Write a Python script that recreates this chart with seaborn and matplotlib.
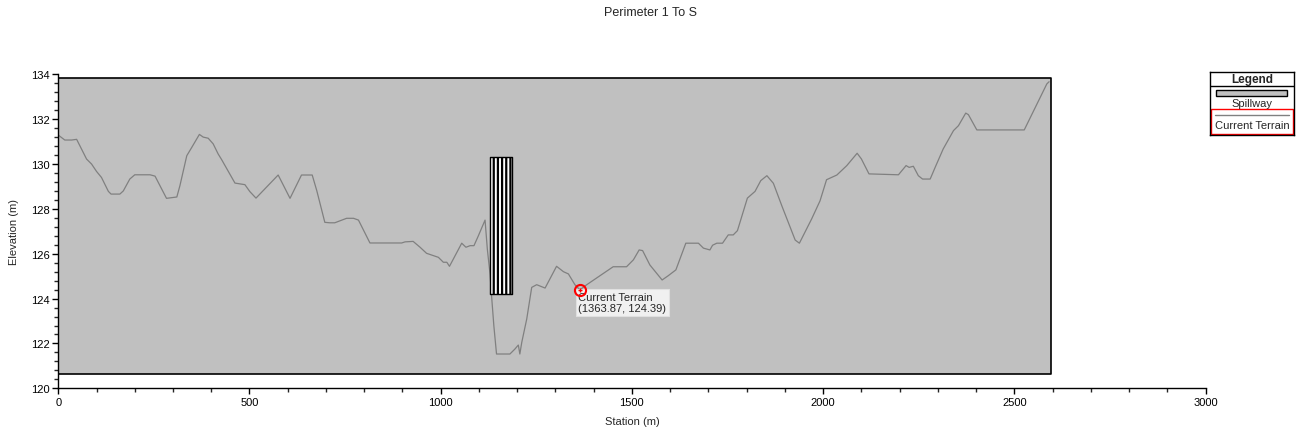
import matplotlib
matplotlib.use("Agg")
import matplotlib.pyplot as plt
import seaborn as sns
import pandas as pd
from matplotlib.patches import Rectangle
from matplotlib.lines import Line2D
from matplotlib.ticker import MultipleLocator

# terrain profile
station = [0, 17, 35, 48, 74, 87, 100, 113, 131, 138, 161, 170, 187, 200, 240, 253,
           283, 310, 318, 336, 349, 369, 379, 392, 405, 418, 427, 462, 488, 501, 517,
           575, 606, 636, 664, 676, 697, 710, 723, 754, 772, 785, 815, 898, 907, 928,
           946, 963, 994, 1007, 1016, 1023, 1055, 1066, 1077, 1087, 1098, 1116, 1122,
           1129, 1133, 1139, 1146, 1181, 1194, 1203, 1207, 1212, 1225, 1238, 1251,
           1273, 1303, 1321, 1334, 1351, 1364, 1382, 1451, 1486, 1504, 1519, 1528,
           1547, 1579, 1595, 1615, 1641, 1674, 1687, 1704, 1711, 1722, 1737, 1752,
           1765, 1776, 1802, 1822, 1837, 1853, 1870, 1892, 1927, 1938, 1970, 1992,
           2009, 2036, 2062, 2089, 2100, 2120, 2197, 2217, 2225, 2236, 2249, 2260,
           2280, 2293, 2314, 2341, 2354, 2373, 2380, 2402, 2526, 2585, 2591]
elevation = [131.29, 131.07, 131.07, 131.1, 130.22, 130.0, 129.67, 129.4, 128.78, 128.66,
             128.66, 128.8, 129.33, 129.52, 129.52, 129.46, 128.47, 128.53, 129.03, 130.37,
             130.74, 131.32, 131.2, 131.15, 130.9, 130.45, 130.2, 129.15, 129.08, 128.77,
             128.48, 129.51, 128.47, 129.51, 129.51, 128.81, 127.4, 127.38, 127.38, 127.58,
             127.58, 127.5, 126.48, 126.48, 126.53, 126.55, 126.29, 126.02, 125.84, 125.62,
             125.62, 125.44, 126.47, 126.29, 126.36, 126.36, 126.78, 127.5, 126.2, 125.1,
             124.13, 122.79, 121.53, 121.53, 121.75, 121.93, 121.53, 122.05, 123.09, 124.5,
             124.62, 124.47, 125.44, 125.2, 125.1, 124.62, 124.39, 124.62, 125.42, 125.42,
             125.73, 126.17, 126.14, 125.5, 124.83, 125.02, 125.28, 126.47, 126.47, 126.25,
             126.17, 126.38, 126.47, 126.47, 126.84, 126.84, 127.03, 128.48, 128.78, 129.26,
             129.48, 129.14, 128.14, 126.61, 126.47, 127.55, 128.36, 129.3, 129.51, 129.93,
             130.48, 130.23, 129.56, 129.52, 129.93, 129.85, 129.9, 129.48, 129.33, 129.33,
             129.85, 130.67, 131.49, 131.71, 132.27, 132.2, 131.52, 131.52, 133.57, 133.67]

# shaded extent and spillway block
area_station = [0, 2595]
area_elev = [120.62, 133.82]
spill_station = [1129, 1186]
spill_elev = [124.19, 130.3]

# cursor readout
cursor_station = 1363.87
cursor_elev = 124.39

df = pd.DataFrame({"Station": station, "Elevation": elevation})

sns.set_style("ticks")
plt.rcParams["font.family"] = ["Liberation Sans", "DejaVu Sans"]
plt.rcParams["hatch.linewidth"] = 1.6

fig = plt.figure(figsize=(13.01, 4.35), dpi=100)
ax = fig.add_axes([0.0448, 0.105, 0.8818, 0.7219])

ax.fill_between(area_station, area_elev[0], area_elev[1], facecolor="#c0c0c0",
                edgecolor="black", linewidth=1.2, zorder=1)
ax.fill_between(spill_station, spill_elev[0], spill_elev[1], facecolor="white",
                edgecolor="black", hatch="||||", linewidth=1.0, zorder=3)
sns.lineplot(data=df, x="Station", y="Elevation", estimator=None, sort=False,
             color="#808080", linewidth=0.9, ax=ax, zorder=2)

ax.annotate(f"Current Terrain\n({cursor_station:.2f}, {cursor_elev:.2f})",
            xy=(cursor_station, cursor_elev), xytext=(-1, -1.5), textcoords="offset points",
            ha="left", va="top", fontsize=8, linespacing=1.15, zorder=6,
            bbox=dict(boxstyle="square,pad=0.25", facecolor="#f0f0f0",
                      edgecolor="#e0e0e0", linewidth=0.8))
ax.plot(cursor_station, cursor_elev, marker="o", markersize=8, markerfacecolor="none",
        markeredgecolor="red", markeredgewidth=1.5, zorder=7)
ax.plot(cursor_station, cursor_elev, marker="+", markersize=3, color="red",
        markeredgewidth=1, zorder=7)

ax.set_xlim(0, 3000)
ax.set_ylim(120, 134)
ax.xaxis.set_major_locator(MultipleLocator(500))
ax.xaxis.set_minor_locator(MultipleLocator(100))
ax.yaxis.set_major_locator(MultipleLocator(2))
ax.yaxis.set_minor_locator(MultipleLocator(0.4))
ax.tick_params(which="major", length=4, width=1, labelsize=8, pad=2, colors="black")
ax.tick_params(which="minor", length=3, width=1)
for s in ["top", "right"]:
    ax.spines[s].set_visible(False)
for s in ["left", "bottom"]:
    ax.spines[s].set_linewidth(1)
    ax.spines[s].set_color("black")
ax.set_xlabel("Station (m)", fontsize=8, labelpad=7)
ax.set_ylabel("Elevation (m)", fontsize=8, labelpad=9)
fig.suptitle("Perimeter 1 To S", fontsize=9, y=0.985)

# legend box
lax = fig.add_axes([1210 / 1301, 1 - 136 / 435, 84 / 1301, 63 / 435])
lax.set_xlim(0, 84)
lax.set_ylim(63, 0)
lax.set_xticks([])
lax.set_yticks([])
for sp in lax.spines.values():
    sp.set_linewidth(1)
    sp.set_color("black")
lax.text(42, 7, "Legend", ha="center", va="center", fontsize=8.5, fontweight="bold")
lax.add_line(Line2D([0, 84], [14, 14], color="black", linewidth=1))
lax.add_patch(Rectangle((6, 18), 71, 6, facecolor="#c0c0c0", edgecolor="black", linewidth=1))
lax.text(42, 31, "Spillway", ha="center", va="center", fontsize=8)
lax.add_patch(Rectangle((1, 37), 82, 25, facecolor="none", edgecolor="red", linewidth=1))
lax.add_line(Line2D([5, 79], [43, 43], color="#808080", linewidth=1))
lax.text(42, 53, "Current Terrain", ha="center", va="center", fontsize=8)

fig.savefig("out.png", dpi=100)
